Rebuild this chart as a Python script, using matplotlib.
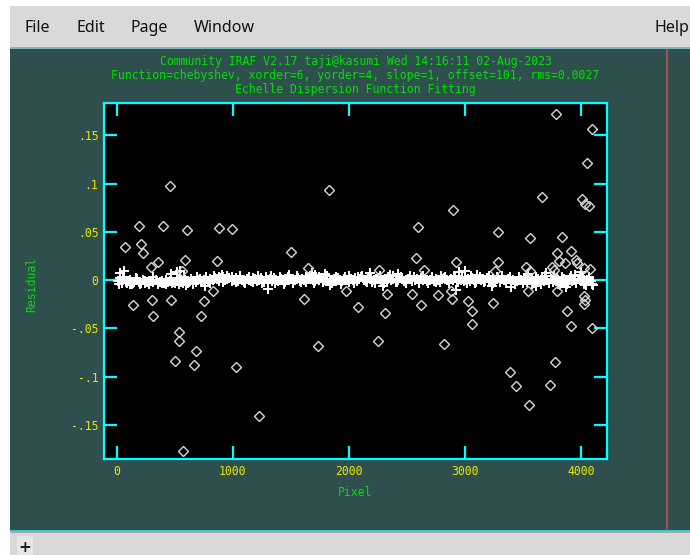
import matplotlib
matplotlib.use("Agg")
import matplotlib.pyplot as plt
from matplotlib.patches import Rectangle
import numpy as np

# fitted lines (+), residuals in units of 0.001
fit_x = [8, 27, 44, 63, 81, 99, 118, 136, 152, 171, 189, 207, 226, 243, 262, 280, 297, 316, 334, 351,
         370, 388, 406, 425, 442, 461, 479, 497,
         515, 534, 552, 570, 588, 607, 625, 643, 661, 680, 698, 716, 735, 752, 771, 789, 807, 826, 843, 862,
         880, 898, 917, 935, 953, 971, 990,
         1008, 1027, 1045, 1063, 1082, 1100, 1118, 1137, 1155, 1173, 1192, 1210, 1228, 1247, 1265, 1283,
         1302, 1320, 1338, 1357, 1375, 1393, 1412, 1430, 1448, 1467, 1485,
         1503, 1522, 1540, 1558, 1577, 1595, 1613, 1632, 1650, 1668, 1687, 1705, 1723, 1742, 1760, 1778,
         1797, 1815, 1833, 1852, 1870, 1888, 1907, 1925, 1943, 1962, 1980, 1998,
         2017, 2035, 2053, 2072, 2090, 2108, 2127, 2145, 2163, 2182, 2200, 2218, 2237, 2255, 2273, 2292,
         2310, 2328, 2347, 2365, 2383, 2402, 2420, 2438, 2457, 2475, 2493,
         2512, 2530, 2548, 2567, 2585, 2603, 2622, 2640, 2658, 2677, 2695, 2713, 2732, 2750, 2768, 2787,
         2805, 2823, 2842, 2860, 2878, 2897, 2915, 2933, 2952, 2970, 2988,
         3007, 3025, 3043, 3062, 3080, 3098, 3117, 3135, 3153, 3172, 3190, 3208, 3227, 3245, 3263, 3282,
         3300, 3318, 3337, 3355, 3373, 3392, 3410, 3428, 3447, 3465, 3483,
         3502, 3520, 3538, 3557, 3575, 3593, 3612, 3630, 3648, 3667, 3685, 3703, 3722, 3740, 3758, 3777,
         3795, 3813, 3832, 3850, 3868, 3887, 3905, 3923, 3942, 3960, 3978, 3997, 4015, 4033, 4052, 4070, 4088]
fit_res = [-1, 2, -3, 1, -2, -1, 0, -3, -2, 1, -2, -3, 0, -1, -2, -3, -1, -2, 0, -3, -2, -1, -3, 0, -2, -1, -3, -2,
           -1, 1, -2, -3, 0, -1, -2, 1, -1, -2, 0, 1, -1, 0, 2, -1, 1, 0, 2, 1, -1, 2, 3, 0, 1, 2, -1,
           0, 2, -1, 1, 0, -2, 1, 0, -1, 2, 1, -1, 0, 2, -2, 1, 0, 1, -1, 2, 0, -1, 1, 0, -2, 1, 0,
           1, -1, 0, 2, -1, 1, 0, -2, 1, 2, 0, -1, 1, 0, 2, -1, 0, 1, -2, 0, 1, -1, 2, 0, -1, 1, 0, -2,
           1, 0, 2, -1, 1, 3, 0, -1, 2, 1, -2, 0, 1, 2, -1, 0, 1, -1, 2, 0, 1, -2, 0, 2, 1, -1, 0,
           1, 2, -1, 0, 1, -2, 2, 0, 1, -1, 0, 2, -1, 1, 0, -2, 1, 2, 0, -1, 1, 0, 2, -1, 1, 0, -1,
           0, 1, -1, 2, 0, -2, 1, 0, 1, -1, 2, 0, -1, 1, 0, 2, -2, 1, 0, -1, 1, 2, 0, -2, -1, 1, 0,
           -1, 0, -2, 1, -1, -3, 0, 1, -2, 2, -1, 0, -3, 1, -2, 0, 2, -1, -3, 1, 0, -2, 2, -1, 0, -3,
           1, -1, 2, -2, 0, 1, -1]
# second set of fitted lines, spread a little wider
fit3_x = [15, 52, 90, 128, 165, 203, 240, 278, 315, 353, 390, 428, 465, 503, 540, 578, 615, 653, 690, 728,
          765, 803, 840, 878, 915, 953, 990, 1028, 1065, 1103, 1140, 1178, 1215, 1253, 1290, 1328, 1365,
          1403, 1440, 1478, 1515, 1553, 1590, 1628, 1665, 1703, 1740, 1778, 1815, 1853, 1890, 1928, 1965,
          2003, 2040, 2078, 2115, 2153, 2190, 2228, 2265, 2303, 2340, 2378, 2415, 2453, 2490, 2528, 2565,
          2603, 2640, 2678, 2715, 2753, 2790, 2828, 2865, 2903, 2940, 2978, 3015, 3053, 3090, 3128, 3165,
          3203, 3240, 3278, 3315, 3353, 3390, 3428, 3465, 3503, 3540, 3578, 3615, 3653, 3690, 3728, 3765,
          3803, 3840, 3878, 3915, 3953, 3990, 4028, 4065, 4095]
fit3_res = [-4, 3, -3, -4, 2, -4, -3, -4, 3, -4, -3, -4, 2, -3, -4, 3, -3, -4, 3, -2,
            3, -3, 4, 3, -2, 4, 3, -2, 4, -3, 3, -2, 4, -3, 3, 4, -3, 3, -4, 3,
            -3, 4, -2, 3, 4, -3, 3, -2, 4, -3, 3, -4, 3, 4, -3, 3, 4, -2, 3, -3,
            4, -3, 3, 4, -2, 3, -3, 4, 3, -3, 4, -3, 3, -2, 4, 3, -3, 4, -2, 3,
            -3, 4, -3, 3, -2, 4, -3, 3, 4, -3, 3, -4, 3, -3, 4, -4, 3, -4, 4, -3,
            4, -4, 3, -4, 4, -3, 4, -4, 3, -4]
# scattered fitted lines a bit off the band
fit2_x = [30, 60, 110, 470, 520, 545, 600, 760, 905, 1303, 1480, 1679, 1710, 1790, 1840, 2181, 2290,
          2350, 2420, 2919, 2950, 3000, 3100, 3230, 3400, 3540, 3610, 3700, 3820, 3870, 3950, 4000, 4040, 4100]
fit2_res = [7, 9, -4, 6, 8, 9, -5, -6, 5, -9, 5, 7, 5, 6, -5, 7, -6, 5, 6, -10, 8, 9, 5, -6, -7, 6, -6,
            7, -5, -7, 5, 8, -5, -5]

# rejected lines (diamonds)
rej_x = [456, 189, 396, 603, 881, 993, 69, 207, 229, 298, 358, 585, 864, 560,
         140, 301, 465, 752, 829, 310, 723, 536, 536, 686, 502, 663, 1030, 1225, 574,
         1825, 2597, 1503, 2574, 1644, 2256, 2643,
         1613, 1974, 2077, 2325, 2310, 2540, 2623, 2764, 2253, 1736,
         3782, 4095, 4055, 3662, 4012, 4032, 4069, 2901, 3286, 3564, 3840, 3911, 3791, 3811, 3860, 3954,
         3963, 2921, 3289, 3524, 3561, 3754, 3768, 4026, 4078, 3260,
         2887, 2884, 3025, 3059, 3059, 3240, 2821, 3544, 3791, 3883, 3917, 4095, 4030, 4035, 4028, 3774,
         3386, 3444, 3731, 3553]
rej_res = [0.097, 0.0565, 0.0565, 0.0517, 0.0544, 0.0534, 0.034, 0.037, 0.0277, 0.0135, 0.019, 0.0205, 0.0194, 0.0094,
           -0.0256, -0.0208, -0.0208, -0.0214, -0.0114, -0.0374, -0.0374, -0.0537, -0.0627, -0.0734, -0.0841,
           -0.0883, -0.0904, -0.1413, -0.177,
           0.0935, 0.0548, 0.0288, 0.0233, 0.0125, 0.010, 0.010,
           -0.020, -0.0114, -0.028, -0.0149, -0.034, -0.0141, -0.0256, -0.0159, -0.0627, -0.0686,
           0.172, 0.1566, 0.1216, 0.0863, 0.0842, 0.0783, 0.0766, 0.0731, 0.0496, 0.0433, 0.0447, 0.0306,
           0.0281, 0.0194, 0.018, 0.0205, 0.018, 0.0184, 0.0184, 0.0132, 0.0097, 0.0135, 0.0104, 0.0125,
           0.0114, 0.0094,
           -0.0197, -0.0114, -0.0221, -0.0322, -0.0457, -0.0242, -0.0661, -0.0114, -0.0117, -0.0322, -0.0481,
           -0.0495, -0.017, -0.021, -0.025, -0.0852, -0.0956, -0.110, -0.109, -0.1295]

xticks = [0, 1000, 2000, 3000, 4000]
yticks = [-0.15, -0.1, -0.05, 0, 0.05, 0.1, 0.15]
ytick_labels = ["-.15", "-.1", "-.05", "0", ".05", ".1", ".15"]

title_lines = ["Community IRAF V2.17 taji@kasumi Wed 14:16:11 02-Aug-2023",
               "Function=chebyshev, xorder=6, yorder=4, slope=1, offset=101, rms=0.0027",
               "Echelle Dispersion Function Fitting"]
menu_items = ["File", "Edit", "Page", "Window", "Help"]

W, H = 690, 555
BG = "#2f4f4f"
CYAN = "#00ffff"
GREEN = "#00e000"
YELLOW = "#e8e800"
MONO = "DejaVu Sans Mono"

fig = plt.figure(figsize=(W / 100, H / 100), dpi=100)
fig.patch.set_facecolor("white")

def px_rect(x0, y0, x1, y1, color, z=0):
    # pixel box (top-left origin) -> figure patch
    fig.patches.append(Rectangle((x0 / W, 1 - y1 / H), (x1 - x0) / W, (y1 - y0) / H,
                                 transform=fig.transFigure, color=color, zorder=z, lw=0))

# window chrome
px_rect(10, 6, W, 47, "#d9d9d9")
px_rect(10, 47, W, 48.5, "#7fb8bc")
px_rect(10, 48.5, W, 529.5, BG)
px_rect(10, 529.5, W, 531, "#30c0c0")
px_rect(10, 531, W, 533, "#a8a8a8")
px_rect(10, 533, W, H, "#d9d9d9")
px_rect(17, 536, 33, H, "#e6e6e6")
px_rect(666, 48.5, 668, 529.5, "#a05050")
fig.text(25 / W, 1 - 548 / H, "+", fontsize=11, fontweight="bold", ha="center", va="center", color="#202020")

menu_pos = [24, 77, 131, 194, 655]
for name, mx in zip(menu_items, menu_pos):
    fig.text(mx / W, 1 - 28 / H, name, fontsize=11.5, family="Noto Sans", fontweight="medium",
             ha="left", va="center", color="#111111")

for line, ty in zip(title_lines, [61, 75, 89]):
    fig.text(355.5 / W, 1 - ty / H, line, fontsize=8.3, family=MONO, ha="center", va="center", color=GREEN)

ax = fig.add_axes([104 / W, 1 - 459 / H, (607 - 104) / W, (459 - 103) / H])
ax.set_zorder(5)
ax.set_facecolor("black")

for xs, rs in [(fit_x, fit_res), (fit3_x, fit3_res), (fit2_x, fit2_res)]:
    ax.plot(np.array(xs), np.array(rs) * 1e-3, "+", color="white", ms=7, mew=1.4)
ax.plot(rej_x, rej_res, "D", mfc="none", mec="#d8d8d8", ms=4.8, mew=1.0)

ax.set_xlim(-110, 4224)
ax.set_ylim(-0.1855, 0.1835)
ax.set_xticks(xticks)
ax.set_xticklabels([str(t) for t in xticks])
ax.set_yticks(yticks)
ax.set_yticklabels(ytick_labels)

for s in ax.spines.values():
    s.set_color(CYAN)
    s.set_linewidth(1.6)
ax.tick_params(direction="in", length=9.5, width=1.6, color=CYAN, top=True, right=True,
               labelcolor=YELLOW, labelsize=8.3, pad=4)
for lab in ax.get_xticklabels() + ax.get_yticklabels():
    lab.set_family(MONO)

ax.set_xlabel("Pixel", color=GREEN, family=MONO, fontsize=8.3, labelpad=6)
fig.text(32 / W, 1 - 285 / H, "Residual", rotation=90, color=GREEN, family=MONO, fontsize=8.3,
         ha="center", va="center")

fig.savefig("out.png", dpi=100, facecolor=fig.get_facecolor())
